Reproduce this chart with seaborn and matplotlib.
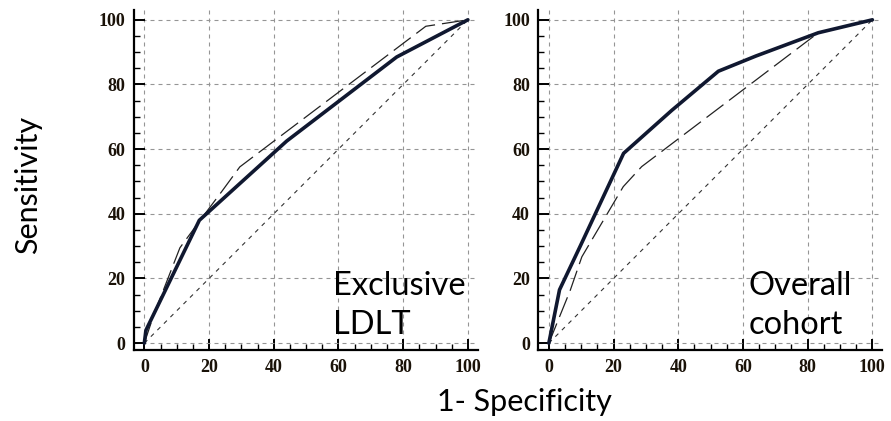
import matplotlib
matplotlib.use("Agg")
import matplotlib.pyplot as plt
import seaborn as sbn
from matplotlib.ticker import MultipleLocator

# Exclusive LDLT panel
ldlt_solid_x = [0, 0.5, 17, 44, 78, 100]
ldlt_solid_y = [0, 4, 38, 62.5, 88.5, 100]
ldlt_dash_x = [0, 3, 11, 18, 24, 29.5, 87, 100]
ldlt_dash_y = [0, 9, 29.5, 39, 47, 54.5, 98, 100]

# Overall cohort panel
all_solid_x = [0, 3.3, 9.7, 23.1, 38, 52.4, 64, 83.3, 100]
all_solid_y = [0, 16.5, 30, 58.7, 72, 84.1, 88.8, 96, 100]
all_dash_x = [0, 6.6, 10.2, 23, 28.7, 83.3, 100]
all_dash_y = [0, 16.3, 26.7, 48.4, 54.6, 96, 100]

diag = [0, 100]
tick_vals = [0, 20, 40, 60, 80, 100]
panel_labels = ['Exclusive\nLDLT', 'Overall\ncohort']

sbn.set_style('white')
label_font = ['Lato', 'DejaVu Sans']
tick_font = 'Liberation Serif'

fig = plt.figure(figsize=(8.91, 4.21), dpi=100)
ax1 = fig.add_axes([0.150, 0.168, 0.386, 0.808])
ax2 = fig.add_axes([0.604, 0.168, 0.386, 0.808])

panels = [
    (ax1, ldlt_solid_x, ldlt_solid_y, ldlt_dash_x, ldlt_dash_y, panel_labels[0], 58.4),
    (ax2, all_solid_x, all_solid_y, all_dash_x, all_dash_y, panel_labels[1], 61.6),
]

for ax, sx, sy, dx, dy, txt, tx in panels:
    ax.set_xlim(-3.3, 103)
    ax.set_ylim(-2.2, 103)
    ax.grid(True, which='major', color='#959595', linestyle=(0, (3.6, 3.6)), linewidth=0.8)
    ax.set_axisbelow(True)

    sbn.lineplot(x=diag, y=diag, ax=ax, color='#333333', linewidth=0.8,
                 linestyle=(0, (3.8, 4.5)), sort=False, estimator=None)
    sbn.lineplot(x=dx, y=dy, ax=ax, color='#222222', linewidth=0.9,
                 linestyle=(0, (17, 5.6)), sort=False, estimator=None)
    sbn.lineplot(x=sx, y=sy, ax=ax, color='#101830', linewidth=2.6,
                 sort=False, estimator=None)

    for side in ['top', 'right']:
        ax.spines[side].set_visible(False)
    for side in ['left', 'bottom']:
        ax.spines[side].set_color('black')
        ax.spines[side].set_linewidth(1.6)

    ax.xaxis.set_minor_locator(MultipleLocator(5))
    ax.yaxis.set_minor_locator(MultipleLocator(5))
    ax.set_xticks(tick_vals)
    ax.set_yticks(tick_vals)
    ax.tick_params(which='major', direction='in', length=8, width=1.4, color='black', pad=6)
    ax.tick_params(which='minor', direction='in', length=4, width=1.0, color='black')
    ax.tick_params(axis='both', which='both', bottom=True, left=True, top=False, right=False)
    for lab in ax.get_xticklabels() + ax.get_yticklabels():
        lab.set_fontfamily(tick_font)
        lab.set_fontweight('bold')
        lab.set_fontsize(13)
        lab.set_color('#1a1208')
    ax.set_xlabel('')
    ax.set_ylabel('')

    ax.text(tx, 1.0, txt, fontsize=23.5, family=label_font, ha='left', va='bottom',
            linespacing=1.38, color='black')

fig.text(0.031, 0.56, 'Sensitivity', rotation=90, fontsize=22, family=label_font,
         ha='center', va='center', color='black')
fig.text(0.589, 0.045, '1- Specificity', fontsize=22, family=label_font,
         ha='center', va='center', color='black')

fig.savefig('out.png', dpi=100)
